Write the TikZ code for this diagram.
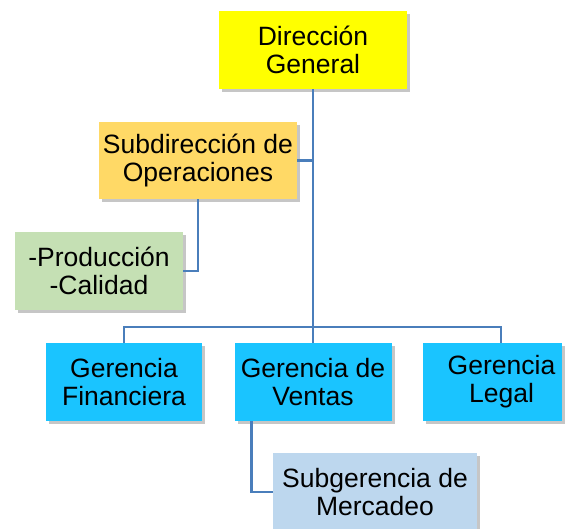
\documentclass[tikz,border=0pt]{standalone}
\usepackage{fontspec}
\setmainfont{Liberation Sans}
\usepackage{tikz}
\usetikzlibrary{shadows}

\definecolor{dirYellow}{HTML}{FFFF00}
\definecolor{subOrange}{HTML}{FFD966}
\definecolor{prodGreen}{HTML}{C5E0B4}
\definecolor{gerCyan}{HTML}{1AC4FF}
\definecolor{subgBlue}{HTML}{BDD7EE}
\definecolor{linkBlue}{HTML}{4A7EBB}

\begin{document}
\begin{tikzpicture}[x=1pt, y=-1pt,
    box/.style={rectangle, minimum height=78pt, inner sep=2pt, align=center,
        font=\fontsize{26.5}{28}\selectfont,
        drop shadow={shadow xshift=3pt, shadow yshift=-3pt, opacity=0.45}},
    link/.style={draw=linkBlue, line width=2.4pt}]
            \useasboundingbox (0,0) rectangle (569,528);

            % top of the chart
            \node[box, fill=dirYellow, minimum width=188pt] (dir) at (313,50) {Dirección\\General};
            \node[box, fill=subOrange, minimum width=198pt, minimum height=77pt] (sub) at (198,160.5) {Subdirección de\\Operaciones};
            \node[box, fill=prodGreen, minimum width=168pt] (prod) at (99,271) {-Producción\\-Calidad};

            % gerencias
            \node[box, fill=gerCyan, minimum width=156pt] (fin) at (124,382) {Gerencia\\Financiera};
            \node[box, fill=gerCyan, minimum width=157pt] (ventas) at (313,382) {Gerencia de\\Ventas};
            \node[box, fill=gerCyan, minimum width=139pt] (legal) at (492.5,382) {\hspace*{18pt}Gerencia\\\hspace*{18pt}Legal};
            \node[box, fill=subgBlue, minimum width=204pt] (subg) at (375,492) {Subgerencia de\\Mercadeo};

            % connectors
            \coordinate (bus) at (313,327);
            \draw[link] (dir.south) -- (ventas.north);
            \draw[link] (sub.east) -- (sub.east -| dir.south);
            \draw[link] (sub.south) |- (prod.east);
            \draw[link] (fin.north) |- (bus) -| ([xshift=8.5pt]legal.north);
            \draw[link] ([xshift=17pt]ventas.south west) |- (subg.west);
        \end{tikzpicture}
\end{document}
